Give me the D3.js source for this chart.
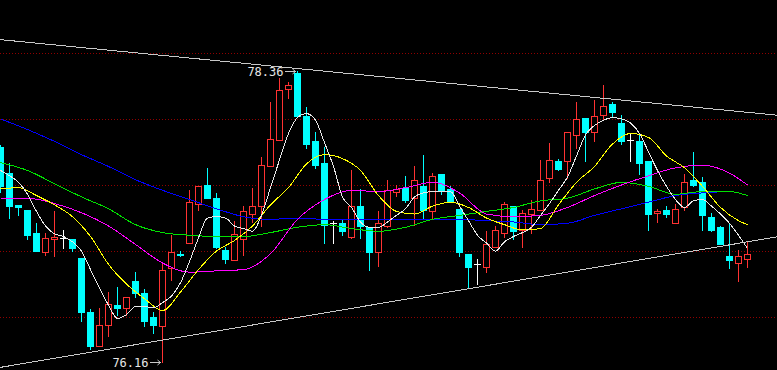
<!DOCTYPE html>
<html>
<head>
<meta charset="utf-8">
<script src="https://cdn.jsdelivr.net/npm/d3@7"></script>
<style>
  html, body { margin: 0; padding: 0; background: #000; overflow: hidden; }
</style>
</head>
<body>
<div id="chart-area"></div>
<script>
// candles (prices)
var candleOpen = [77.79,77.59,77.35,77.31,77.14,76.99,77.09,77.10,77.09,76.95,
  76.54,76.28,76.44,76.59,76.57,76.77,76.68,76.50,76.43,76.87,
  76.98,77.06,77.36,77.50,77.40,77.01,76.93,77.09,77.28,77.34,
  77.64,77.84,78.23,78.35,78.02,77.83,77.67,77.21,77.21,77.11,
  77.34,77.18,76.99,77.19,77.45,77.48,77.40,77.49,77.30,77.58,
  77.47,77.32,76.98,76.90,76.88,77.03,77.14,77.34,77.16,77.28,
  77.31,77.55,77.68,77.68,77.88,78.01,77.90,78.03,78.11,77.97,
  77.84,77.83,77.68,77.29,77.31,77.21,77.33,77.54,77.52,77.26,
  77.18,76.96,76.91,76.94];
var candleHigh = [77.80,77.67,77.35,77.31,77.21,77.14,77.30,77.16,77.09,76.95,
  76.56,76.57,76.69,76.73,76.65,76.84,76.71,76.54,76.92,77.12,
  77.00,77.46,77.49,77.63,77.44,77.03,77.23,77.34,77.48,77.71,
  78.13,78.31,78.28,78.36,78.09,77.90,77.79,77.23,77.24,77.61,
  77.47,77.18,77.30,77.54,77.50,77.57,77.64,77.73,77.59,77.58,
  77.49,77.32,76.98,76.94,77.15,77.19,77.37,77.34,77.31,77.39,
  77.69,77.82,77.70,77.90,78.13,78.01,78.14,78.26,78.13,78.03,
  77.89,77.88,77.68,77.32,77.34,77.36,77.58,77.75,77.56,77.29,
  77.19,77.21,77.01,77.08];
var candleLow = [77.45,77.25,77.27,77.09,77.00,76.97,76.96,77.02,77.00,76.47,
  76.26,76.28,76.36,76.52,76.52,76.65,76.43,76.38,76.16,76.78,
  76.96,77.06,77.31,77.40,77.02,76.91,76.93,76.97,77.22,77.19,
  77.64,77.84,78.16,78.02,77.78,77.63,77.06,77.06,77.12,77.10,
  77.10,76.86,76.89,77.18,77.42,77.37,77.20,77.25,77.24,77.43,
  77.37,76.96,76.72,76.75,76.84,77.03,77.11,77.09,77.03,77.14,
  77.31,77.52,77.61,77.55,77.78,77.68,77.83,78.00,78.02,77.81,
  77.68,77.58,77.16,77.22,77.26,77.21,77.31,77.49,77.16,77.15,
  77.05,76.87,76.77,76.88];
var candleClose = [77.49,77.34,77.33,77.12,77.00,77.10,77.11,77.10,77.02,76.54,
  76.28,76.44,76.60,76.57,76.65,76.68,76.47,76.44,76.86,76.99,
  76.97,77.37,77.49,77.40,77.03,76.94,77.13,77.30,77.34,77.65,
  77.85,78.22,78.26,78.02,77.81,77.65,77.20,77.21,77.15,77.34,
  77.19,76.99,77.21,77.46,77.47,77.39,77.54,77.31,77.57,77.46,
  77.37,76.99,76.88,76.90,77.05,77.16,77.36,77.15,77.29,77.32,
  77.54,77.69,77.62,77.90,78.00,77.90,78.02,78.10,78.05,77.83,
  77.84,77.67,77.28,77.30,77.28,77.32,77.52,77.50,77.27,77.16,
  77.05,76.93,76.96,76.98];

// moving average lines: [candle index, price]
var ma5 = [77.61,77.57,77.52,77.43,77.30,77.19,77.13,77.11,77.07,77.00,
  76.86,76.72,76.59,76.49,76.52,76.58,76.58,76.57,76.61,76.66,
  76.76,76.92,77.10,77.25,77.26,77.25,77.19,77.17,77.15,77.27,
  77.48,77.69,77.89,78.01,78.04,77.99,77.82,77.64,77.41,77.33,
  77.22,77.18,77.18,77.22,77.27,77.32,77.41,77.44,77.45,77.45,
  77.45,77.34,77.23,77.12,77.06,77.00,77.07,77.11,77.14,77.18,
  77.27,77.36,77.46,77.56,77.72,77.88,77.95,77.99,78.01,78.00,
  77.97,77.89,77.75,77.61,77.49,77.39,77.33,77.38,77.39,77.34,
  77.28,77.21,77.12,77.02].map(function(v, i) { return [i, v]; });
var ma10 = [[0,77.47],[2,77.48],[4,77.42],[6,77.35],[8,77.26],[10,77.11],[12,76.90],
  [14,76.75],[16,76.64],[18,76.55],[20,76.69],[22,76.86],[24,77.00],[26,77.08],
  [28,77.19],[30,77.35],[32,77.48],[34,77.66],[36,77.73],[38,77.70],[40,77.61],
  [42,77.42],[44,77.30],[46,77.28],[48,77.34],[50,77.37],[52,77.33],[54,77.25],
  [56,77.20],[58,77.16],[60,77.17],[62,77.35],[64,77.52],[66,77.64],[68,77.81],
  [70,77.89],[72,77.86],[74,77.72],[76,77.63],[78,77.49],[80,77.33],[82,77.23],[83,77.20]];
var ma20 = [[0,77.40],[3,77.40],[6,77.36],[9,77.29],[12,77.19],[15,77.05],[18,76.91],
  [21,76.84],[24,76.85],[27,76.86],[30,76.98],[33,77.24],[36,77.39],[39,77.46],
  [42,77.45],[45,77.48],[48,77.52],[51,77.44],[54,77.28],[57,77.26],[60,77.27],
  [63,77.33],[66,77.42],[69,77.50],[72,77.57],[75,77.63],[78,77.65],[81,77.59],[83,77.50]];
var ma30 = [[0,77.67],[3,77.61],[6,77.51],[9,77.41],[12,77.32],[15,77.20],[18,77.14],
  [21,77.12],[24,77.11],[27,77.11],[30,77.14],[33,77.18],[36,77.20],[39,77.17],
  [42,77.15],[45,77.18],[48,77.24],[51,77.27],[54,77.30],[57,77.33],[60,77.38],
  [63,77.40],[66,77.47],[69,77.52],[72,77.49],[75,77.43],[78,77.45],[81,77.45],[83,77.42]];
var ma60 = [[0,78.00],[3,77.92],[6,77.83],[9,77.73],[12,77.64],[15,77.54],[18,77.46],
  [21,77.39],[24,77.32],[27,77.26],[30,77.24],[33,77.25],[36,77.24],[39,77.24],
  [42,77.24],[45,77.24],[48,77.24],[51,77.24],[54,77.23],[57,77.22],[60,77.20],
  [63,77.21],[66,77.27],[69,77.32],[72,77.37],[75,77.42],[78,77.44],[81,77.45],[83,77.42]];

// trend lines, two anchor points each: [candle index, price]
var upperTrend = [[0,78.60],[83,78.05]];
var lowerTrend = [[0,76.12],[83,77.07]];

var gridPrices = [76.5, 77.0, 77.5, 78.0, 78.5];

var W = 777, H = 370;

var svg = d3.select("#chart-area").append("svg")
    .attr("width", W)
    .attr("height", H)
    .style("display", "block")
    .style("background", "#000");

var x = d3.scaleLinear()
    .domain([0, candleClose.length - 1])
    .range([0.5, 0.5 + 9 * (candleClose.length - 1)]);

var y = d3.scaleLinear()
    .domain([76.1, 78.9])
    .range([H, 0]);

var py = function(p) { return Math.round(y(p)); };

// dotted grid
svg.selectAll(".grid")
    .data(gridPrices)
    .enter()
    .append("line")
        .attr("x1", 0)
        .attr("x2", W)
        .attr("y1", (d) => py(d) + 0.5)
        .attr("y2", (d) => py(d) + 0.5)
        .attr("stroke", "#900000")
        .attr("stroke-dasharray", "1,2")
        .attr("shape-rendering", "crispEdges");

var candles = d3.range(candleClose.length).map((i) => {
    return {i: i, o: candleOpen[i], h: candleHigh[i], l: candleLow[i], c: candleClose[i]};
});

var colorOf = (d) => d.c > d.o ? "#ff3232" : (d.c < d.o ? "#00ffff" : "#ffffff");

var g = svg.append("g").attr("shape-rendering", "crispEdges");

// wicks
g.selectAll(".wick")
    .data(candles)
    .enter()
    .append("line")
        .attr("x1", (d) => x(d.i))
        .attr("x2", (d) => x(d.i))
        .attr("y1", (d) => py(d.h))
        .attr("y2", (d) => py(d.l) + 1)
        .attr("stroke", colorOf)
        .attr("stroke-width", 1);

// up candles: hollow red
g.selectAll(".up")
    .data(candles.filter((d) => d.c > d.o))
    .enter()
    .append("rect")
        .attr("x", (d) => x(d.i) - 3)
        .attr("y", (d) => py(d.c) + 0.5)
        .attr("width", 6)
        .attr("height", (d) => Math.max(1, py(d.o) - py(d.c)))
        .attr("fill", "#000")
        .attr("stroke", "#ff3232")
        .attr("stroke-width", 1);

// down candles: solid cyan
g.selectAll(".down")
    .data(candles.filter((d) => d.c < d.o))
    .enter()
    .append("rect")
        .attr("x", (d) => x(d.i) - 3.5)
        .attr("y", (d) => py(d.o))
        .attr("width", 7)
        .attr("height", (d) => Math.max(2, py(d.c) - py(d.o) + 1))
        .attr("fill", "#00ffff");

// doji: white cross
g.selectAll(".doji")
    .data(candles.filter((d) => d.c === d.o))
    .enter()
    .append("line")
        .attr("x1", (d) => x(d.i) - 3.5)
        .attr("x2", (d) => x(d.i) + 3.5)
        .attr("y1", (d) => py(d.c) + 0.5)
        .attr("y2", (d) => py(d.c) + 0.5)
        .attr("stroke", "#ffffff");

// moving averages
var line = d3.line()
    .x((d) => x(d[0]))
    .y((d) => y(d[1]))
    .curve(d3.curveMonotoneX);

var maSeries = [
    {data: ma60, color: "#0000ff"},
    {data: ma30, color: "#00e000"},
    {data: ma20, color: "#ff00ff"},
    {data: ma10, color: "#ffff00"},
    {data: ma5,  color: "#e8e8e8"}
];

svg.selectAll(".ma")
    .data(maSeries)
    .enter()
    .append("path")
        .attr("d", (d) => line(d.data))
        .attr("fill", "none")
        .attr("stroke", (d) => d.color)
        .attr("stroke-width", 1)
        .attr("shape-rendering", "crispEdges");

// trend lines, extended across the plot
var extend = function(pts) {
    var slope = (pts[1][1] - pts[0][1]) / (pts[1][0] - pts[0][0]);
    var i0 = x.invert(0), i1 = x.invert(W);
    return [[i0, pts[0][1] + slope * (i0 - pts[0][0])], [i1, pts[0][1] + slope * (i1 - pts[0][0])]];
};

svg.selectAll(".trend")
    .data([upperTrend, lowerTrend].map(extend))
    .enter()
    .append("line")
        .attr("x1", (d) => x(d[0][0]))
        .attr("y1", (d) => y(d[0][1]))
        .attr("x2", (d) => x(d[1][0]))
        .attr("y2", (d) => y(d[1][1]))
        .attr("stroke", "#c8c8c8")
        .attr("stroke-width", 1)
        .attr("shape-rendering", "crispEdges");

// high / low labels with arrows
var hiIdx = d3.maxIndex(candleHigh), loIdx = d3.minIndex(candleLow);
var marks = [
    {i: hiIdx, p: candleHigh[hiIdx]},
    {i: loIdx, p: candleLow[loIdx]}
];

marks.forEach((m) => {
    var cx = x(m.i), cy = py(m.p) + 0.5;
    svg.append("text")
        .attr("x", cx - 14)
        .attr("y", cy + 4.5)
        .attr("text-anchor", "end")
        .attr("font-family", "DejaVu Sans Mono, monospace")
        .attr("font-size", 12)
        .attr("fill", "#e6e6e6")
        .text(m.p.toFixed(2));
    svg.append("line")
        .attr("x1", cx - 13)
        .attr("x2", cx - 2)
        .attr("y1", cy)
        .attr("y2", cy)
        .attr("stroke", "#c8c8c8")
        .attr("shape-rendering", "crispEdges");
    svg.append("path")
        .attr("d", "M" + (cx - 5) + "," + (cy - 2.5) + "L" + (cx - 2) + "," + cy + "L" + (cx - 5) + "," + (cy + 2.5))
        .attr("fill", "none")
        .attr("stroke", "#c8c8c8");
});
</script>
</body>
</html>
